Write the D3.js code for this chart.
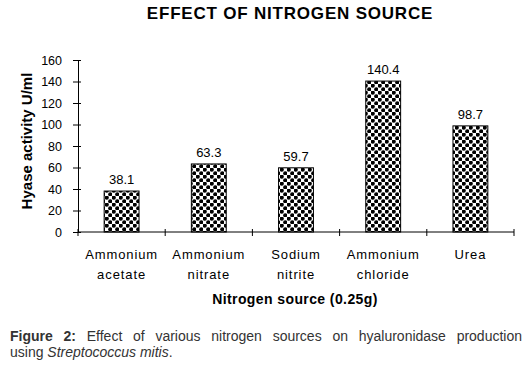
<!DOCTYPE html>
<html>
<head>
<meta charset="utf-8">
<script src="https://cdn.jsdelivr.net/npm/d3@7"></script>
<style>
  body { margin: 0; background: #fff; }
  svg { display: block; font-family: Arial, "Liberation Sans", sans-serif; }
</style>
</head>
<body>
<div id="chart"></div>
<script>
// Data
var sources = ["Ammonium acetate", "Ammonium nitrate", "Sodium nitrite", "Ammonium chloride", "Urea"];
var sourceLines = [["Ammonium", "acetate"], ["Ammonium", "nitrate"], ["Sodium", "nitrite"], ["Ammonium", "chloride"], ["Urea"]];
var activity = [38.1, 63.3, 59.7, 140.4, 98.7];
var yTicks = [0, 20, 40, 60, 80, 100, 120, 140, 160];

// Dimensions
var W = 532, H = 366;
var plot = { left: 78, right: 514, top: 60, bottom: 232 };

var svg = d3.select("#chart").append("svg")
  .attr("width", W)
  .attr("height", H);

// dot pattern for the bars
var defs = svg.append("defs");
var pat = defs.append("pattern")
  .attr("id", "dots")
  .attr("patternUnits", "userSpaceOnUse")
  .attr("width", 7)
  .attr("height", 7);
pat.append("rect").attr("width", 7).attr("height", 7).attr("fill", "#fff");
pat.append("circle").attr("cx", 1.75).attr("cy", 1.75).attr("r", 2.1).attr("fill", "#000");
pat.append("circle").attr("cx", 5.25).attr("cy", 5.25).attr("r", 2.1).attr("fill", "#000");

// Scales
var x = d3.scaleBand()
  .domain(sources)
  .range([plot.left, plot.right])
  .paddingInner(0.6)
  .paddingOuter(0.3);

var y = d3.scaleLinear()
  .domain([0, 160])
  .range([plot.bottom, plot.top]);

// Title
svg.append("text")
  .attr("x", 290)
  .attr("y", 19)
  .attr("text-anchor", "middle")
  .style("font-size", "17px")
  .style("font-weight", "bold")
  .style("letter-spacing", "0.8px")
  .text("EFFECT OF NITROGEN SOURCE");

// Y axis
var yAxis = svg.append("g")
  .attr("transform", "translate(" + plot.left + ",0)")
  .call(d3.axisLeft(y).tickValues(yTicks).tickSizeOuter(0).tickPadding(10));
yAxis.select(".domain").attr("stroke", "#000");
yAxis.selectAll(".tick line").attr("x1", 3).attr("x2", -5).attr("stroke", "#000");
yAxis.selectAll(".tick text")
  .style("font-family", "Arial, 'Liberation Sans', sans-serif")
  .style("font-size", "12.5px")
  .attr("fill", "#000");

// Y axis label
svg.append("text")
  .attr("transform", "translate(32," + ((plot.top + plot.bottom) / 2 - 5) + ") rotate(-90)")
  .attr("text-anchor", "middle")
  .style("font-size", "15px")
  .style("font-weight", "bold")
  .text("Hyase activity U/ml");

// Bars
svg.append("g")
  .selectAll("rect")
  .data(activity)
  .enter()
  .append("rect")
    .attr("x", function(d, i) { return x(sources[i]); })
    .attr("y", function(d) { return y(d); })
    .attr("width", x.bandwidth())
    .attr("height", function(d) { return y(0) - y(d); })
    .attr("fill", "url(#dots)")
    .attr("stroke", "#000")
    .attr("stroke-width", 1);

// Value labels
svg.append("g")
  .selectAll("text")
  .data(activity)
  .enter()
  .append("text")
    .attr("x", function(d, i) { return x(sources[i]) + x.bandwidth() / 2; })
    .attr("y", function(d) { return y(d) - 7; })
    .attr("text-anchor", "middle")
    .style("font-size", "13px")
    .text(function(d) { return d.toFixed(1); });

// X axis line with boundary ticks
var xAxis = svg.append("g");
xAxis.append("line")
  .attr("x1", plot.left).attr("x2", plot.right)
  .attr("y1", y(0)).attr("y2", y(0))
  .attr("stroke", "#000");
xAxis.selectAll(".xtick")
  .data(d3.range(sources.length + 1))
  .enter()
  .append("line")
    .attr("class", "xtick")
    .attr("x1", function(i) { return plot.left + i * x.step(); })
    .attr("x2", function(i) { return plot.left + i * x.step(); })
    .attr("y1", y(0) - 3)
    .attr("y2", y(0) + 4)
    .attr("stroke", "#000");

// Category labels (two lines)
var cat = svg.append("g")
  .selectAll("text")
  .data(sourceLines)
  .enter()
  .append("text")
    .attr("text-anchor", "middle")
    .style("font-size", "13px")
    .style("letter-spacing", "0.9px");
cat.each(function(lines, i) {
  var t = d3.select(this);
  lines.forEach(function(l, j) {
    t.append("tspan")
      .attr("x", x(sources[i]) + x.bandwidth() / 2)
      .attr("y", 259 + j * 20)
      .text(l);
  });
});

// X axis label
svg.append("text")
  .attr("x", 295)
  .attr("y", 304)
  .attr("text-anchor", "middle")
  .style("font-size", "14px")
  .style("font-weight", "bold")
  .style("letter-spacing", "0.4px")
  .text("Nitrogen source (0.25g)");

// Caption (first line justified to the right edge)
var cap1 = svg.append("text")
  .attr("x", 10)
  .attr("y", 341)
  .attr("fill", "#333")
  .style("font-size", "14px");
cap1.append("tspan").style("font-weight", "bold").text("Figure 2:");
cap1.append("tspan").text(" Effect of various nitrogen sources on hyaluronidase production");
var natural = cap1.node().getComputedTextLength();
var gaps = 9;
cap1.style("word-spacing", ((522 - 10 - natural) / gaps) + "px");

var cap2 = svg.append("text")
  .attr("x", 10)
  .attr("y", 357)
  .attr("fill", "#333")
  .style("font-size", "14px");
cap2.append("tspan").text("using ");
cap2.append("tspan").style("font-style", "italic").text("Streptococcus mitis");
cap2.append("tspan").text(".");
</script>
</body>
</html>
